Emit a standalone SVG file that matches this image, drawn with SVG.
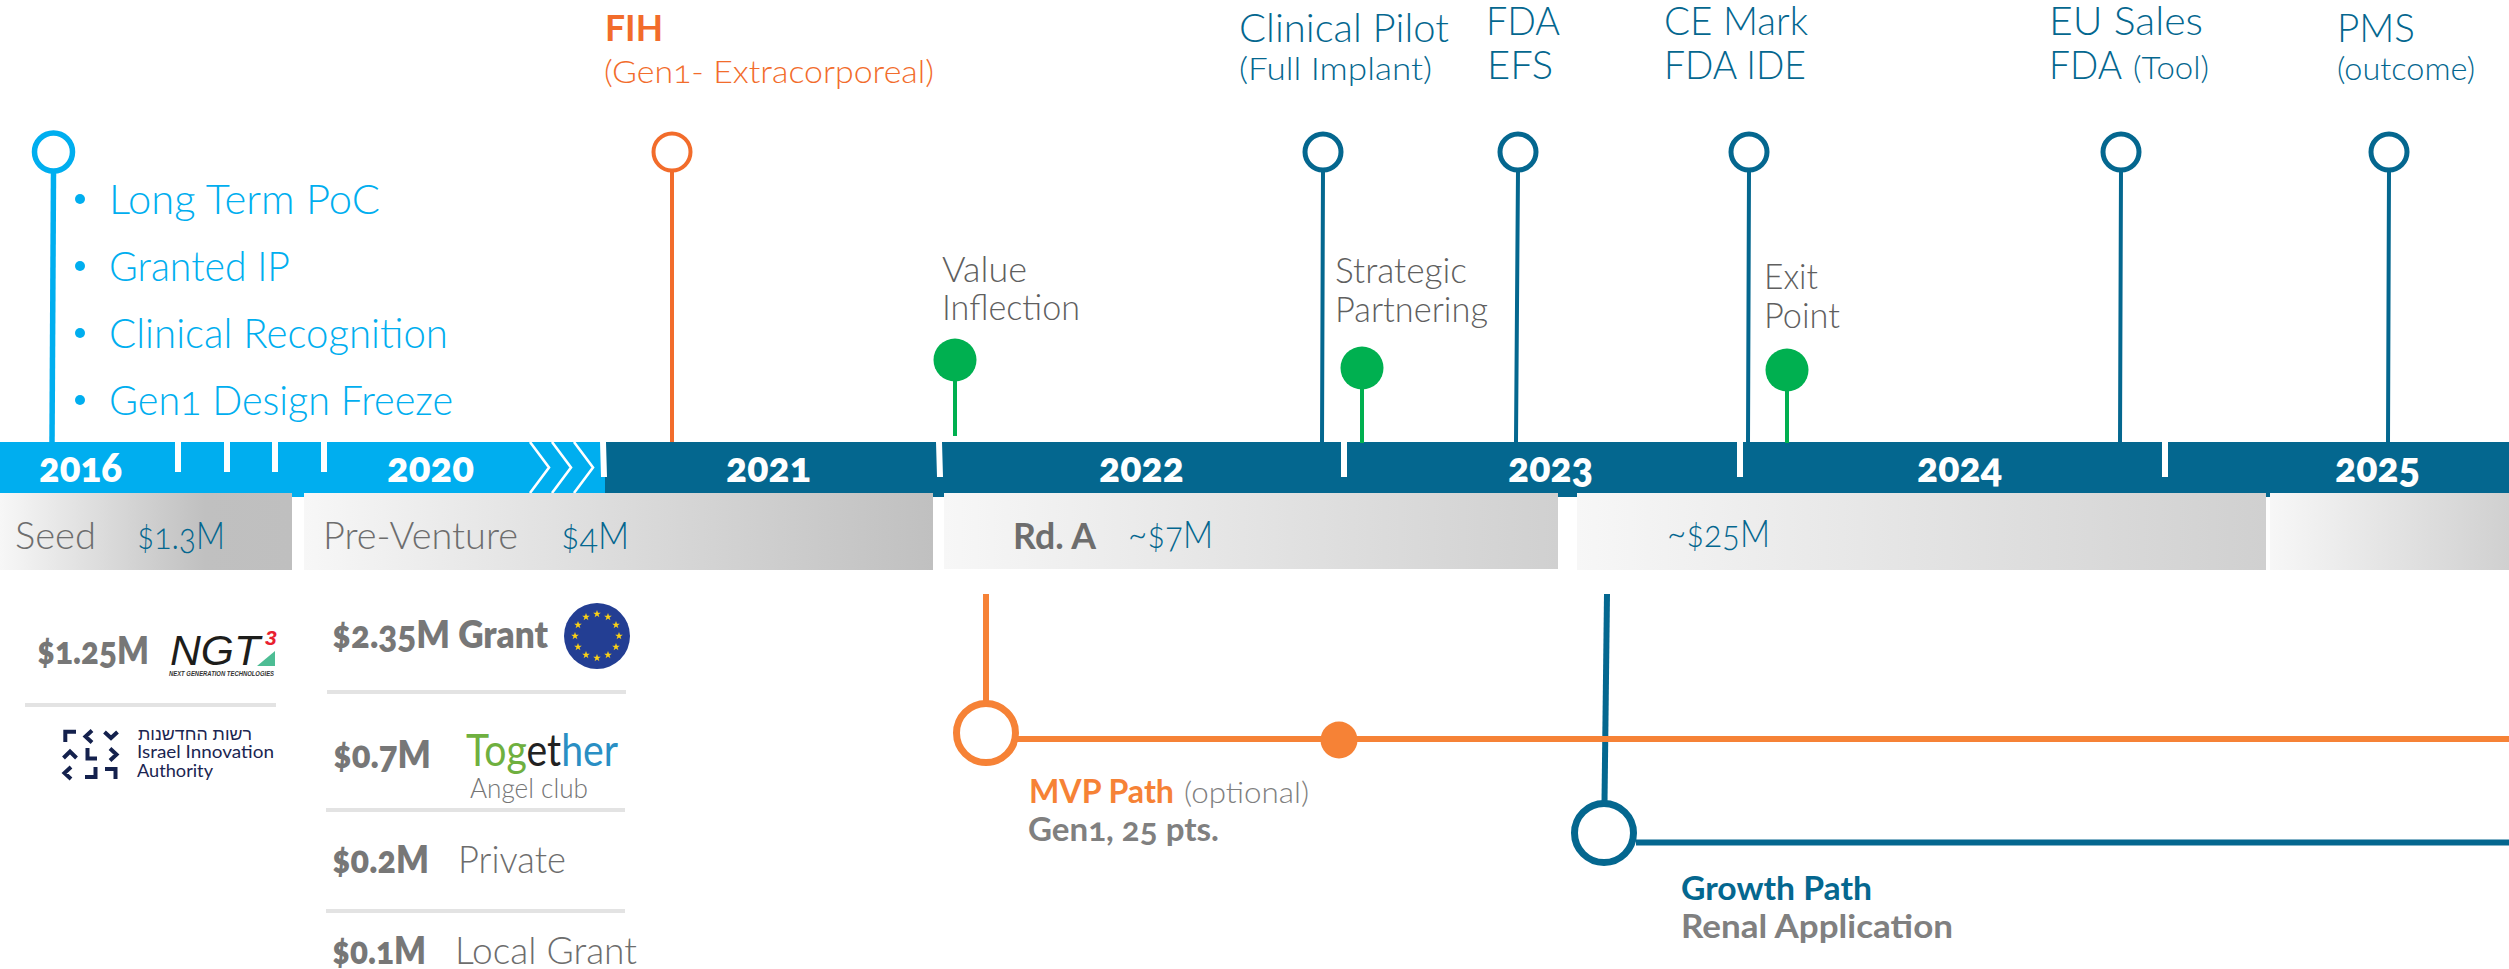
<svg xmlns="http://www.w3.org/2000/svg" width="2509" height="969" viewBox="0 0 2509 969">
<style>
text{font-family:Lato,"Liberation Sans",sans-serif;font-weight:300;font-variant-numeric:oldstyle-nums}
.b{font-weight:700}
.lb{fill:#00aeef;font-size:41px}
.db{fill:#04678f;font-size:40px}
.dbs{fill:#04678f;font-size:31px}
.or{fill:#f26c2b}
.gy{fill:#6d6d6d;font-size:37px}
.gv{fill:#5f5f5f;font-size:36px}
.am{fill:#777;font-size:38px;font-weight:800}
.yr{fill:#fff;font-size:42px;font-weight:800}
.mt{fill:#04678f;font-size:38px}
.sub{fill:#808080;font-size:33px;font-weight:700}
.ia{fill:#1b2551;font-size:17px;font-weight:400}
.tg{font-weight:400}
.lg{font-family:"Liberation Sans",sans-serif;font-style:italic;font-variant-numeric:normal}
.stem{fill:none;stroke-linecap:butt}
.tick{stroke:#fff;stroke-width:6;fill:none}
.chev{stroke:#fff;stroke-width:2.6;fill:none}
.div{stroke:#e3e3e3;stroke-width:4}
.ring{fill:#fff;stroke:#04678f;stroke-width:5}
.ia-m{fill:none;stroke:#14214d;stroke-width:4}
.star{fill:#fbd116}
</style>
<defs>
<linearGradient id="g1"><stop offset="0" stop-color="#f7f7f7"/><stop offset=".7" stop-color="#c0c0c0"/><stop offset="1" stop-color="#bfbfbf"/></linearGradient>
<linearGradient id="g2"><stop offset="0" stop-color="#f7f7f7"/><stop offset=".85" stop-color="#c8c8c8"/><stop offset="1" stop-color="#c0c0c0"/></linearGradient>
<linearGradient id="g3"><stop offset="0" stop-color="#f7f7f7"/><stop offset="1" stop-color="#d0d0d0"/></linearGradient>
<polygon id="s" class="star" points="0,-4 1,-1.3 3.8,-1.3 1.5,.5 2.4,3.2 0,1.6 -2.4,3.2 -1.5,.5 -3.8,-1.3 -1,-1.3"/>
</defs>

<g id="timeline-bar">
<rect x="0" y="442" width="606" height="51" fill="#00aeef"/>
<rect x="292" y="493" width="12" height="4" fill="#00aeef"/>
<rect x="605" y="442" width="1904" height="51" fill="#04678f"/>
<rect x="933" y="493" width="11" height="4" fill="#04678f"/>
<rect x="1558" y="493" width="19" height="4" fill="#04678f"/>
<rect x="2266" y="493" width="4" height="4" fill="#04678f"/>
<path class="tick" d="M178 442V472M227 442V472M275 442V472M324 442V472"/>
<path class="tick" d="M603 442L604 477M939 442L940 477M1344 442V477M1740 442V477M2165 442V477"/>
<path class="chev" d="M530 442L549 467.500L530 493M552 442L571 467.500L552 493M574 442L593 467.500L574 493"/>
<text class="yr" x="39" y="482" textLength="83" lengthAdjust="spacingAndGlyphs">2016</text>
<text class="yr" x="387" y="482" textLength="87" lengthAdjust="spacingAndGlyphs">2020</text>
<text class="yr" x="726" y="482" textLength="85" lengthAdjust="spacingAndGlyphs">2021</text>
<text class="yr" x="1099" y="482" textLength="85" lengthAdjust="spacingAndGlyphs">2022</text>
<text class="yr" x="1508" y="482" textLength="85" lengthAdjust="spacingAndGlyphs">2023</text>
<text class="yr" x="1917" y="482" textLength="85" lengthAdjust="spacingAndGlyphs">2024</text>
<text class="yr" x="2335" y="482" textLength="85" lengthAdjust="spacingAndGlyphs">2025</text>
</g>

<g id="rounds">
<g id="round-seed"><rect x="0" y="493" width="292" height="77" fill="url(#g1)"/>
<text class="gy" x="15" y="549" textLength="81" lengthAdjust="spacingAndGlyphs">Seed</text>
<text class="mt" x="137" y="549" textLength="88" lengthAdjust="spacingAndGlyphs">$1.3M</text></g>
<g id="round-pre"><rect x="304" y="493" width="629" height="77" fill="url(#g2)"/>
<text class="gy" x="323" y="549" textLength="195" lengthAdjust="spacingAndGlyphs">Pre-Venture</text>
<text class="mt" x="561" y="549" textLength="68" lengthAdjust="spacingAndGlyphs">$4M</text></g>
<g id="round-a"><rect x="944" y="493" width="614" height="76" fill="url(#g3)"/>
<text class="gy b" x="1013" y="549" textLength="83" lengthAdjust="spacingAndGlyphs">Rd. A</text>
<text class="mt" x="1128" y="548" textLength="85" lengthAdjust="spacingAndGlyphs">~$7M</text></g>
<g id="round-b"><rect x="1577" y="493" width="689" height="77" fill="url(#g3)"/>
<text class="mt" x="1667" y="547" textLength="103" lengthAdjust="spacingAndGlyphs">~$25M</text></g>
<rect id="round-c" x="2270" y="493" width="239" height="77" fill="url(#g3)"/>
</g>

<g id="connectors">
<path class="stem" stroke="#00aeef" stroke-width="5.500" d="M53.500 172L52 442"/>
<path class="stem" stroke="#f26c2b" stroke-width="4" d="M672 170V442"/>
<path class="stem" stroke="#04678f" stroke-width="4" d="M1323 170L1322 442M1518 170L1516 442M1749 170L1748 442M2121 170L2120 442M2389 170L2388 442"/>
<path class="stem" stroke="#00b050" stroke-width="4" d="M955 378V436M1362 386V443M1787 388V443"/>
<path class="stem" stroke="#04678f" stroke-width="6" d="M1607 594L1604.500 802"/>
<path class="stem" stroke="#04678f" stroke-width="6" d="M1636 842.500H2509"/>
<path class="stem" stroke="#f68236" stroke-width="6" d="M986 594V702"/>
<path class="stem" stroke="#f68236" stroke-width="6" d="M1016 739H2509"/>
</g>

<g id="milestone-2016">
<circle cx="53.500" cy="152" r="19" fill="#fff" stroke="#00aeef" stroke-width="5.500"/>
<circle cx="80" cy="199" r="5" fill="#00aeef"/><circle cx="80" cy="266" r="5" fill="#00aeef"/><circle cx="80" cy="333" r="5" fill="#00aeef"/><circle cx="80" cy="400" r="5" fill="#00aeef"/>
<text class="lb" x="109" y="214" textLength="271" lengthAdjust="spacingAndGlyphs">Long Term PoC</text>
<text class="lb" x="109" y="281" textLength="181" lengthAdjust="spacingAndGlyphs">Granted IP</text>
<text class="lb" x="109" y="348" textLength="339" lengthAdjust="spacingAndGlyphs">Clinical Recognition</text>
<text class="lb" x="109" y="415" textLength="344" lengthAdjust="spacingAndGlyphs">Gen1 Design Freeze</text>
</g>
<g id="milestone-fih">
<circle cx="672" cy="152" r="18.500" fill="#fff" stroke="#f26c2b" stroke-width="4"/>
<text class="or b" font-size="37" x="605" y="41" textLength="58" lengthAdjust="spacingAndGlyphs">FIH</text>
<text class="or" font-size="31" x="604" y="83" textLength="330" lengthAdjust="spacingAndGlyphs">(Gen1- Extracorporeal)</text>
</g>
<g id="milestone-clinical">
<circle class="ring" cx="1323" cy="152" r="18"/>
<text class="db" x="1239" y="42" textLength="210" lengthAdjust="spacingAndGlyphs">Clinical Pilot</text>
<text class="dbs" x="1239" y="80" textLength="193" lengthAdjust="spacingAndGlyphs">(Full Implant)</text>
</g>
<g id="milestone-efs">
<circle class="ring" cx="1518" cy="152" r="18"/>
<text class="db" x="1486" y="35" textLength="74" lengthAdjust="spacingAndGlyphs">FDA</text>
<text class="db" x="1487" y="79" textLength="66" lengthAdjust="spacingAndGlyphs">EFS</text>
</g>
<g id="milestone-ce">
<circle class="ring" cx="1749" cy="152" r="18"/>
<text class="db" x="1664" y="35" textLength="144" lengthAdjust="spacingAndGlyphs">CE Mark</text>
<text class="db" x="1664" y="79" textLength="142" lengthAdjust="spacingAndGlyphs">FDA IDE</text>
</g>
<g id="milestone-eu">
<circle class="ring" cx="2121" cy="152" r="18"/>
<text class="db" x="2049" y="35" textLength="154" lengthAdjust="spacingAndGlyphs">EU Sales</text>
<text class="db" x="2049" y="79" textLength="73" lengthAdjust="spacingAndGlyphs">FDA</text>
<text class="dbs" x="2133" y="79" textLength="76" lengthAdjust="spacingAndGlyphs">(Tool)</text>
</g>
<g id="milestone-pms">
<circle class="ring" cx="2389" cy="152" r="18"/>
<text class="db" x="2337" y="42" textLength="78" lengthAdjust="spacingAndGlyphs">PMS</text>
<text class="dbs" x="2337" y="80" textLength="138" lengthAdjust="spacingAndGlyphs">(outcome)</text>
</g>

<g id="value-inflection"><circle cx="955" cy="360" r="21.500" fill="#00b050"/>
<text class="gv" x="942" y="282" textLength="85" lengthAdjust="spacingAndGlyphs">Value</text>
<text class="gv" x="942" y="320" textLength="138" lengthAdjust="spacingAndGlyphs">Inflection</text></g>
<g id="strategic-partnering"><circle cx="1362" cy="368" r="21.500" fill="#00b050"/>
<text class="gv" x="1335" y="283" textLength="132" lengthAdjust="spacingAndGlyphs">Strategic</text>
<text class="gv" x="1335" y="322" textLength="153" lengthAdjust="spacingAndGlyphs">Partnering</text></g>
<g id="exit-point"><circle cx="1787" cy="370" r="21.500" fill="#00b050"/>
<text class="gv" x="1764" y="289" textLength="54" lengthAdjust="spacingAndGlyphs">Exit</text>
<text class="gv" x="1764" y="328" textLength="76" lengthAdjust="spacingAndGlyphs">Point</text></g>

<g id="funding-seed">
<text class="am" x="37" y="664" textLength="112" lengthAdjust="spacingAndGlyphs">$1.25M</text>
<text class="lg" x="170" y="665" font-size="42" fill="#1d1d1b" textLength="90" lengthAdjust="spacingAndGlyphs">NGT</text>
<text class="lg b" x="265" y="645" font-size="21" fill="#e8202f">3</text>
<polygon points="257,666 275,666 275,651" fill="#4dbd94"/>
<text class="lg b" x="169" y="676" font-size="7.500" fill="#333" textLength="105" lengthAdjust="spacingAndGlyphs">NEXT GENERATION TECHNOLOGIES</text>
<path class="div" d="M25 705H276"/>
<path class="ia-m" d="M65.300 742V731.700H76M92 730.500L85.500 736.500L92 742.500M104.500 732L111 738L117.500 732M63.500 758L70 751.500L76.500 758M87.500 748V758.500H97M110 748.500L116.500 754.500L110 760.500M71 767L64.500 773L71 779M85 777H95.500V767M105 769H115.500V779"/>
<text class="ia" x="138" y="740" font-size="16" textLength="114" lengthAdjust="spacingAndGlyphs" direction="rtl" text-anchor="end" style="font-family:'Liberation Sans',sans-serif">רשות החדשנות</text>
<text class="ia" x="137" y="758" textLength="137" lengthAdjust="spacingAndGlyphs">Israel Innovation</text>
<text class="ia" x="137" y="776.500" textLength="76" lengthAdjust="spacingAndGlyphs">Authority</text>
</g>

<g id="funding-pre">
<text class="am" x="332" y="648" textLength="216" lengthAdjust="spacingAndGlyphs">$2.35M Grant</text>
<circle cx="597" cy="636" r="33" fill="#233e93"/>
<use href="#s" x="597" y="614"/><use href="#s" x="608" y="617"/><use href="#s" x="616" y="625"/><use href="#s" x="619" y="636"/><use href="#s" x="616" y="647"/><use href="#s" x="608" y="655"/><use href="#s" x="597" y="658"/><use href="#s" x="586" y="655"/><use href="#s" x="578" y="647"/><use href="#s" x="575" y="636"/><use href="#s" x="578" y="625"/><use href="#s" x="586" y="617"/>
<path class="div" d="M327 692H626M326 810H625M326 911H625"/>
<text class="am" x="333" y="768" textLength="98" lengthAdjust="spacingAndGlyphs">$0.7M</text>
<text class="tg" x="466" y="766" font-size="44" textLength="152" lengthAdjust="spacingAndGlyphs" fill="#6fb03f">Tog<tspan fill="#222">et</tspan><tspan fill="#2a8fc4">her</tspan></text>
<text x="470" y="798" font-size="27" fill="#757575" textLength="118" lengthAdjust="spacingAndGlyphs">Angel club</text>
<text class="am" x="332" y="873" textLength="97" lengthAdjust="spacingAndGlyphs">$0.2M</text>
<text class="gy" x="458" y="873" textLength="108" lengthAdjust="spacingAndGlyphs">Private</text>
<text class="am" x="332" y="964" textLength="94" lengthAdjust="spacingAndGlyphs">$0.1M</text>
<text class="gy" x="455" y="964" textLength="182" lengthAdjust="spacingAndGlyphs">Local Grant</text>
</g>

<g id="mvp-path">
<circle cx="986" cy="733" r="29.500" fill="#fff" stroke="#f68236" stroke-width="7"/>
<circle cx="1339" cy="740" r="18.500" fill="#f68236"/>
<text class="b" x="1029" y="803" font-size="33" fill="#f68236" textLength="145" lengthAdjust="spacingAndGlyphs">MVP Path</text>
<text x="1184" y="803" font-size="30" fill="#808080" textLength="125" lengthAdjust="spacingAndGlyphs">(optional)</text>
<text class="sub" x="1028" y="841" textLength="191" lengthAdjust="spacingAndGlyphs">Gen1, 25 pts.</text>
</g>
<g id="growth-path">
<circle cx="1604" cy="833" r="29.500" fill="#fff" stroke="#04678f" stroke-width="7"/>
<text class="b" x="1681" y="900" font-size="33" fill="#04678f" textLength="191" lengthAdjust="spacingAndGlyphs">Growth Path</text>
<text class="sub" x="1681" y="938" textLength="272" lengthAdjust="spacingAndGlyphs">Renal Application</text>
</g>
</svg>
